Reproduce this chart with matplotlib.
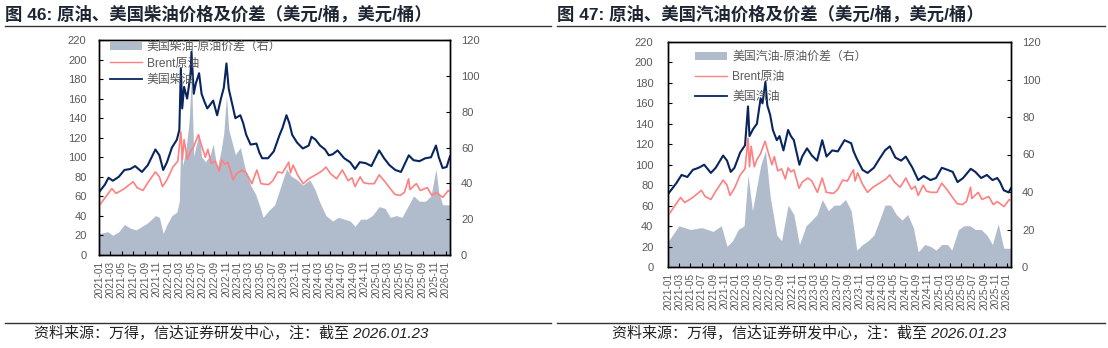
import matplotlib
matplotlib.use("Agg")
import matplotlib.pyplot as plt
import pandas as pd
from matplotlib.lines import Line2D
from matplotlib.patches import Patch

FONT = ["Liberation Sans", "Noto Sans CJK SC"]
plt.rcParams["font.family"] = FONT

# ---------------- data ----------------
brent_dates = ["2021-01-04", "2021-02-15", "2021-03-10", "2021-04-01", "2021-05-15", "2021-06-30",
               "2021-07-20", "2021-08-20", "2021-09-15", "2021-10-25", "2021-11-15", "2021-12-01",
               "2021-12-25", "2022-01-25", "2022-02-20", "2022-03-08", "2022-03-16", "2022-03-25",
               "2022-04-11", "2022-04-25", "2022-05-15", "2022-06-08", "2022-06-25", "2022-07-15",
               "2022-07-28", "2022-08-15", "2022-09-05", "2022-09-25", "2022-10-10", "2022-10-25",
               "2022-11-10", "2022-12-08", "2022-12-25", "2023-01-25", "2023-02-15", "2023-03-17",
               "2023-04-12", "2023-05-04", "2023-06-12", "2023-07-05", "2023-07-31", "2023-08-25",
               "2023-09-27", "2023-10-06", "2023-10-20", "2023-11-15", "2023-12-12", "2024-01-10",
               "2024-02-15", "2024-03-20", "2024-04-10", "2024-05-05", "2024-06-05", "2024-07-05",
               "2024-08-05", "2024-08-25", "2024-09-10", "2024-10-07", "2024-10-25", "2024-11-20",
               "2024-12-20", "2025-01-15", "2025-02-15", "2025-03-10", "2025-04-08", "2025-05-05",
               "2025-05-28", "2025-06-19", "2025-06-26", "2025-07-30", "2025-08-20", "2025-09-25",
               "2025-10-20", "2025-11-10", "2025-12-16", "2026-01-14", "2026-01-23"]
brent_vals = [51, 62, 68, 63, 68, 75,
              69, 66, 74, 85, 80, 70,
              77, 90, 96, 126, 98, 118,
              98, 105, 111, 123, 112, 100,
              108, 94, 96, 86, 97, 93,
              95, 77, 83, 87, 84, 73,
              87, 73, 72, 76, 85, 84,
              95, 84, 92, 81, 73, 78,
              82, 86, 90, 83, 78, 87,
              76, 79, 70, 80, 74, 73,
              73, 82, 75, 69, 62, 61,
              64, 78, 67, 73, 66, 69,
              61, 64, 59, 66, 65]

diesel_dates = ["2021-01-04", "2021-02-01", "2021-02-20", "2021-03-15", "2021-04-15", "2021-05-15",
                "2021-06-15", "2021-07-10", "2021-08-15", "2021-09-15", "2021-10-25", "2021-11-15",
                "2021-12-05", "2021-12-25", "2022-01-20", "2022-02-15", "2022-02-28", "2022-03-08",
                "2022-03-15", "2022-03-25", "2022-04-10", "2022-04-28", "2022-05-03", "2022-05-15",
                "2022-05-25", "2022-06-12", "2022-06-25", "2022-07-10", "2022-07-25", "2022-08-10",
                "2022-08-25", "2022-09-15", "2022-10-05", "2022-10-20", "2022-11-03", "2022-11-15",
                "2022-12-05", "2022-12-20", "2023-01-15", "2023-01-30", "2023-02-15", "2023-03-10",
                "2023-04-10", "2023-04-25", "2023-05-10", "2023-06-10", "2023-07-10", "2023-08-10",
                "2023-08-25", "2023-09-15", "2023-09-30", "2023-10-15", "2023-11-10", "2023-12-10",
                "2024-01-10", "2024-01-25", "2024-02-15", "2024-03-10", "2024-04-05", "2024-04-25",
                "2024-05-15", "2024-06-10", "2024-07-15", "2024-08-15", "2024-09-10", "2024-10-05",
                "2024-11-05", "2024-12-05", "2025-01-15", "2025-02-10", "2025-03-10", "2025-04-10",
                "2025-05-10", "2025-06-20", "2025-07-15", "2025-08-15", "2025-09-15", "2025-10-15",
                "2025-11-10", "2025-11-25", "2025-12-15", "2026-01-05", "2026-01-23"]
diesel_vals = [65, 72, 79, 76, 80, 87,
               88, 91, 85, 92, 108, 102,
               87, 95, 110, 118, 128, 191,
               150, 172, 160, 185, 208, 165,
               175, 186, 165, 157, 150, 154,
               158, 143, 160, 171, 196, 170,
               153, 140, 143, 135, 123, 113,
               114, 105, 99, 99, 106, 123,
               130, 143, 135, 123, 115, 109,
               112, 121, 118, 112, 108, 102,
               103, 107, 99, 95, 88, 95,
               94, 91, 107, 99, 92, 87,
               85, 102, 97, 96, 99, 100,
               112, 100, 89, 90, 101]

diesel_spread_dates = ["2021-01-04", "2021-02-15", "2021-03-15", "2021-04-15", "2021-05-15", "2021-06-15",
                       "2021-07-15", "2021-08-15", "2021-09-15", "2021-10-25", "2021-11-15", "2021-12-05",
                       "2021-12-25", "2022-01-20", "2022-02-15", "2022-02-28", "2022-03-08", "2022-03-18",
                       "2022-04-05", "2022-04-20", "2022-05-03", "2022-05-15", "2022-05-25", "2022-06-12",
                       "2022-06-25", "2022-07-15", "2022-08-10", "2022-08-25", "2022-09-15", "2022-10-05",
                       "2022-10-20", "2022-11-03", "2022-11-15", "2022-12-05", "2022-12-20", "2023-01-15",
                       "2023-02-10", "2023-03-10", "2023-04-05", "2023-04-25", "2023-05-15", "2023-06-15",
                       "2023-07-15", "2023-08-15", "2023-09-15", "2023-10-10", "2023-11-10", "2023-12-10",
                       "2024-01-15", "2024-02-10", "2024-03-10", "2024-04-10", "2024-05-15", "2024-06-15",
                       "2024-07-15", "2024-08-15", "2024-09-10", "2024-10-10", "2024-11-10", "2024-12-10",
                       "2025-01-15", "2025-02-15", "2025-03-15", "2025-04-15", "2025-05-15", "2025-06-20",
                       "2025-07-15", "2025-08-15", "2025-09-15", "2025-10-15", "2025-11-10", "2025-11-25",
                       "2025-12-15", "2026-01-23"]
diesel_spread_vals = [12, 13, 11, 13, 17, 15,
                      14, 16, 18, 22, 21, 12,
                      17, 22, 24, 30, 67, 50,
                      60, 74, 100, 55, 60, 68,
                      55, 52, 56, 62, 48, 58,
                      68, 89, 70, 62, 56, 60,
                      48, 39, 34, 28, 21, 25,
                      28, 38, 48, 44, 42, 39,
                      42, 37, 29, 22, 19, 21,
                      20, 19, 16, 20, 20, 22,
                      27, 26, 21, 22, 21, 28,
                      33, 30, 30, 33, 48, 35,
                      28, 28]

gasoline_dates = ["2021-01-04", "2021-02-15", "2021-03-15", "2021-04-15", "2021-05-15", "2021-06-15",
                  "2021-07-15", "2021-08-20", "2021-09-15", "2021-10-25", "2021-11-15", "2021-12-05",
                  "2021-12-25", "2022-01-25", "2022-02-20", "2022-03-08", "2022-03-16", "2022-04-05",
                  "2022-04-25", "2022-05-15", "2022-05-25", "2022-06-10", "2022-06-20", "2022-07-05",
                  "2022-07-20", "2022-08-10", "2022-08-25", "2022-09-15", "2022-10-10", "2022-10-25",
                  "2022-11-10", "2022-12-10", "2022-12-25", "2023-01-20", "2023-02-15", "2023-03-15",
                  "2023-04-12", "2023-05-05", "2023-06-05", "2023-07-05", "2023-08-10", "2023-09-15",
                  "2023-09-28", "2023-10-15", "2023-11-15", "2023-12-12", "2024-01-15", "2024-02-15",
                  "2024-03-15", "2024-04-10", "2024-05-10", "2024-06-10", "2024-07-05", "2024-08-10",
                  "2024-09-10", "2024-10-10", "2024-11-15", "2024-12-15", "2025-01-15", "2025-02-15",
                  "2025-03-15", "2025-04-10", "2025-05-10", "2025-06-20", "2025-07-15", "2025-08-15",
                  "2025-09-15", "2025-10-15", "2025-11-10", "2025-11-25", "2025-12-15", "2026-01-10",
                  "2026-01-23"]
gasoline_vals = [72, 82, 90, 88, 95, 97,
                 100, 92, 97, 109, 104, 93,
                 97, 112, 119, 157, 128, 135,
                 140, 165, 160, 181, 158, 149,
                 134, 124, 128, 114, 134, 128,
                 124, 100, 108, 116, 109, 104,
                 124, 108, 114, 113, 124, 121,
                 113, 106, 95, 92, 97, 106,
                 114, 118, 107, 104, 108, 97,
                 85, 89, 85, 87, 97, 95,
                 93, 83, 87, 96, 93, 87,
                 90, 85, 87, 83, 75, 73,
                 77]

gasoline_spread_dates = ["2021-01-04", "2021-03-01", "2021-05-01", "2021-07-01", "2021-09-01", "2021-10-15",
                         "2021-11-15", "2021-12-15", "2022-01-15", "2022-02-15", "2022-03-08", "2022-04-01",
                         "2022-05-15", "2022-06-10", "2022-07-05", "2022-08-10", "2022-09-05", "2022-10-10",
                         "2022-11-10", "2022-12-10", "2023-01-15", "2023-02-15", "2023-03-15", "2023-04-12",
                         "2023-05-15", "2023-06-15", "2023-07-15", "2023-08-15", "2023-09-15", "2023-10-15",
                         "2023-11-15", "2023-12-15", "2024-01-15", "2024-02-15", "2024-03-15", "2024-04-15",
                         "2024-05-15", "2024-06-15", "2024-07-15", "2024-08-15", "2024-09-10", "2024-10-15",
                         "2024-11-15", "2024-12-15", "2025-01-15", "2025-02-15", "2025-03-10", "2025-04-15",
                         "2025-05-15", "2025-06-15", "2025-07-15", "2025-08-15", "2025-09-15", "2025-10-15",
                         "2025-11-15", "2025-12-15", "2026-01-23"]
gasoline_spread_vals = [14, 22, 20, 21, 19, 22,
                        11, 14, 20, 22, 49, 30,
                        54, 62, 38, 17, 14, 33,
                        28, 12, 22, 25, 28, 36,
                        30, 33, 33, 36, 30, 9,
                        12, 14, 17, 25, 33, 33,
                        28, 25, 28, 21, 8, 12,
                        11, 9, 12, 12, 9, 20,
                        22, 22, 20, 20, 17, 12,
                        23, 10, 10]

x_ticks = pd.date_range("2021-01-01", "2026-01-01", freq="2MS")
x_tick_labels = [d.strftime("%Y-%m") for d in x_ticks]
left_ticks = list(range(0, 221, 20))
right_ticks = list(range(0, 121, 20))

titles = ["图 46: 原油、美国柴油价格及价差（美元/桶，美元/桶）",
          "图 47: 原油、美国汽油价格及价差（美元/桶，美元/桶）"]
footer = "资料来源：万得，信达证券研发中心，注：截至 2026.01.23"

# ---------------- style ----------------
GRAY = "#B0BBCC"
PINK = "#FF8080"
NAVY = "#08255F"
TXT = "#595959"

W, H = 1108, 348
fig = plt.figure(figsize=(W / 100, H / 100), dpi=100)


def px_rect(x0, y0, x1, y1):
    return [x0 / W, 1 - y1 / H, (x1 - x0) / W, (y1 - y0) / H]


def panel(rect, line_d, line_v, line_label, sp_d, sp_v, sp_label,
          leg_anchor, leg_spacing, ypad_l, ypad_r):
    ax = fig.add_axes(rect)
    ax2 = ax.twinx()
    ax2.fill_between(pd.to_datetime(sp_d), sp_v, 0, color=GRAY, lw=0)
    ax.plot(pd.to_datetime(brent_dates), brent_vals, color=PINK, lw=1.2)
    ax.plot(pd.to_datetime(line_d), line_v, color=NAVY, lw=1.5)
    ax.set_zorder(ax2.get_zorder() + 1)
    ax.patch.set_visible(False)

    ax.set_xlim(pd.Timestamp("2021-01-01"), pd.Timestamp("2026-01-23"))
    ax.set_ylim(0, 220)
    ax2.set_ylim(0, 120)
    ax.set_yticks(left_ticks)
    ax2.set_yticks(right_ticks)
    ax.set_xticks(x_ticks)
    ax.set_xticklabels(x_tick_labels, rotation=90)
    ax.tick_params(axis="x", direction="in", length=3, pad=4, labelsize=7.2, colors="black", labelcolor=TXT)
    ax.tick_params(axis="y", direction="in", length=3, pad=ypad_l, labelsize=8, colors="black", labelcolor=TXT)
    ax2.tick_params(axis="y", direction="in", length=3, pad=ypad_r, labelsize=8, colors="black", labelcolor=TXT)
    for a in (ax, ax2):
        for s in a.spines.values():
            s.set_color("black")
            s.set_linewidth(1.0)

    handles = [Patch(facecolor=GRAY, edgecolor="none"),
               Line2D([], [], color=PINK, lw=1.0),
               Line2D([], [], color=NAVY, lw=1.3)]
    labels = [sp_label, "Brent原油", line_label]
    ax.legend(handles, labels, loc="upper left", bbox_to_anchor=leg_anchor,
              frameon=False, fontsize=8.6, labelcolor=TXT, handlelength=2.7,
              handletextpad=0.4, labelspacing=leg_spacing, borderaxespad=0, borderpad=0)
    return ax


panel(px_rect(99, 40, 450, 255), diesel_dates, diesel_vals, "美国柴油",
      diesel_spread_dates, diesel_spread_vals, "美国柴油-原油价差（右）",
      (0.031, 0.995), 0.38, 9, 8)
panel(px_rect(668, 42, 1011, 267), gasoline_dates, gasoline_vals, "美国汽油",
      gasoline_spread_dates, gasoline_spread_vals, "美国汽油-原油价差（右）",
      (0.079, 0.96), 0.68, 10.5, 8)

# titles
fig.text(5 / W, 1 - 14 / H, titles[0], fontsize=12.5, fontweight="bold", color="#1f2633",
         va="center", ha="left")
fig.text(557 / W, 1 - 14 / H, titles[1], fontsize=12.5, fontweight="bold", color="#1f2633",
         va="center", ha="left")

# rules
for (x0, x1) in [(5, 551), (557, 1105)]:
    fig.add_artist(Line2D([x0 / W, x1 / W], [1 - 26 / H, 1 - 26 / H], color="#333333", lw=1.0))
    fig.add_artist(Line2D([x0 / W, x1 / W], [1 - 323 / H, 1 - 323 / H], color="#333333", lw=1.0))

# footers
fig.text(34 / W, 1 - 334 / H, footer, fontsize=10.8, style="italic", color="#222222",
         va="center", ha="left")
fig.text(612 / W, 1 - 334 / H, footer, fontsize=10.8, style="italic", color="#222222",
         va="center", ha="left")

fig.savefig("out.png", dpi=100)
